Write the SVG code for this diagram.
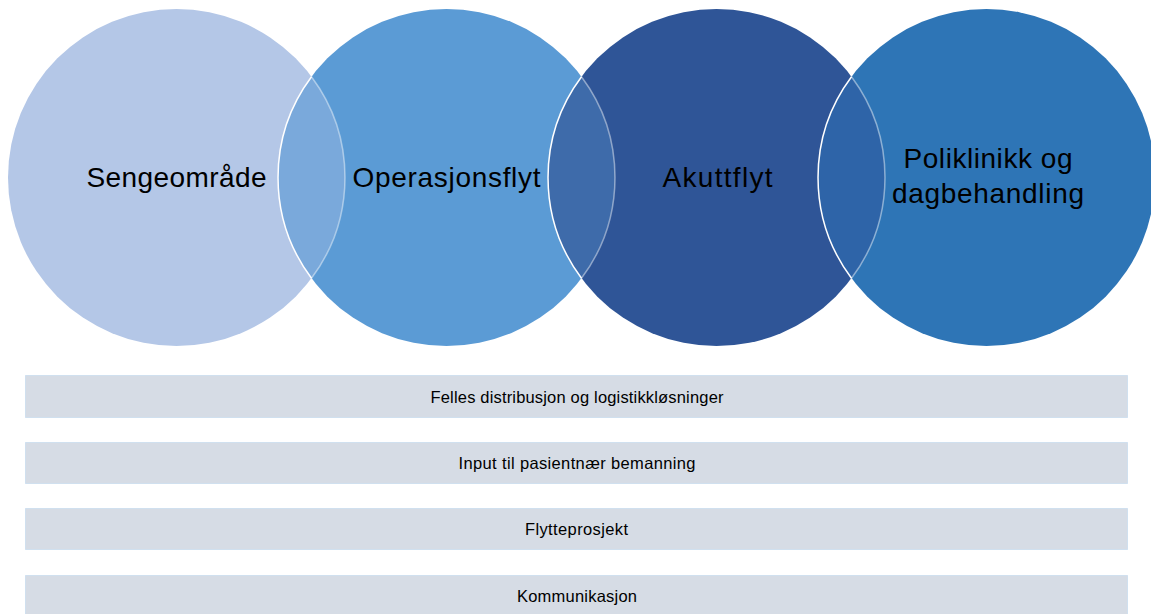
<svg xmlns="http://www.w3.org/2000/svg" width="1151" height="614" viewBox="0 0 1151 614">
  <style>
    .big { font-family: "Liberation Sans", Arial, sans-serif; font-size: 28px; fill: #000; text-anchor: middle; }
    .bar { fill: #D6DCE5; stroke: #B7D2EC; stroke-width: 1; stroke-dasharray: 1 1; }
    .barText { font-family: "Liberation Sans", Arial, sans-serif; font-size: 16.5px; fill: #000; text-anchor: middle; }
    .edgeFront { fill: none; stroke: #FFFFFF; stroke-width: 1.5; }
    .edgeBack { fill: none; stroke: #FFFFFF; stroke-opacity: 0.45; stroke-width: 1.5; }
  </style>
  <rect width="1151" height="614" fill="#FFFFFF"/>

  <!-- Four overlapping circles -->
  <g id="circle-sengeomrade">
    <circle cx="176.5" cy="177.5" r="168.5" fill="#B4C7E7"/>
  </g>
  <g id="circle-operasjonsflyt">
    <circle cx="446.5" cy="177.5" r="168.5" fill="#5B9BD5"/>
  </g>
  <g id="circle-akuttflyt">
    <circle cx="716.5" cy="177.5" r="168.5" fill="#2F5597"/>
  </g>
  <g id="circle-poliklinikk">
    <circle cx="986.5" cy="177.5" r="168.5" fill="#2E75B6"/>
  </g>

  <!-- Overlap lenses -->
  <g id="overlap-1-2">
    <path d="M311.5,76.7 A168.5,168.5 0 0 0 311.5,278.3 A168.5,168.5 0 0 0 311.5,76.7 Z" fill="#7AA9DB"/>
    <path class="edgeBack" d="M311.5,278.3 A168.5,168.5 0 0 0 311.5,76.7"/>
    <path class="edgeFront" d="M311.5,76.7 A168.5,168.5 0 0 0 311.5,278.3"/>
  </g>
  <g id="overlap-2-3">
    <path d="M581.5,76.7 A168.5,168.5 0 0 0 581.5,278.3 A168.5,168.5 0 0 0 581.5,76.7 Z" fill="#3E6BAA"/>
    <path class="edgeBack" d="M581.5,278.3 A168.5,168.5 0 0 0 581.5,76.7"/>
    <path class="edgeFront" d="M581.5,76.7 A168.5,168.5 0 0 0 581.5,278.3"/>
  </g>
  <g id="overlap-3-4">
    <path d="M851.5,76.7 A168.5,168.5 0 0 0 851.5,278.3 A168.5,168.5 0 0 0 851.5,76.7 Z" fill="#2E64A8"/>
    <path class="edgeBack" d="M851.5,278.3 A168.5,168.5 0 0 0 851.5,76.7"/>
    <path class="edgeFront" d="M851.5,76.7 A168.5,168.5 0 0 0 851.5,278.3"/>
  </g>

  <!-- Circle labels -->
  <g id="labels">
    <text class="big" x="176.5" y="187" textLength="180">Sengeområde</text>
    <text class="big" x="446.5" y="187" textLength="188">Operasjonsflyt</text>
    <text class="big" x="717.5" y="187" textLength="110">Akuttflyt</text>
    <text class="big" x="988" y="168" textLength="169">Poliklinikk og</text>
    <text class="big" x="988" y="203" textLength="192">dagbehandling</text>
  </g>

  <!-- Shared work streams -->
  <g id="bar-logistikk">
    <rect class="bar" x="25.5" y="375.5" width="1102" height="42"/>
    <text class="barText" x="577" y="402.5" textLength="293">Felles distribusjon og logistikkløsninger</text>
  </g>
  <g id="bar-bemanning">
    <rect class="bar" x="25.5" y="442.5" width="1102" height="41"/>
    <text class="barText" x="577" y="468.5" textLength="237">Input til pasientnær bemanning</text>
  </g>
  <g id="bar-flytteprosjekt">
    <rect class="bar" x="25.5" y="508.5" width="1102" height="41"/>
    <text class="barText" x="576.5" y="535" textLength="103">Flytteprosjekt</text>
  </g>
  <g id="bar-kommunikasjon">
    <rect class="bar" x="25.5" y="575.5" width="1102" height="42"/>
    <text class="barText" x="577" y="601.5" textLength="120">Kommunikasjon</text>
  </g>
</svg>
